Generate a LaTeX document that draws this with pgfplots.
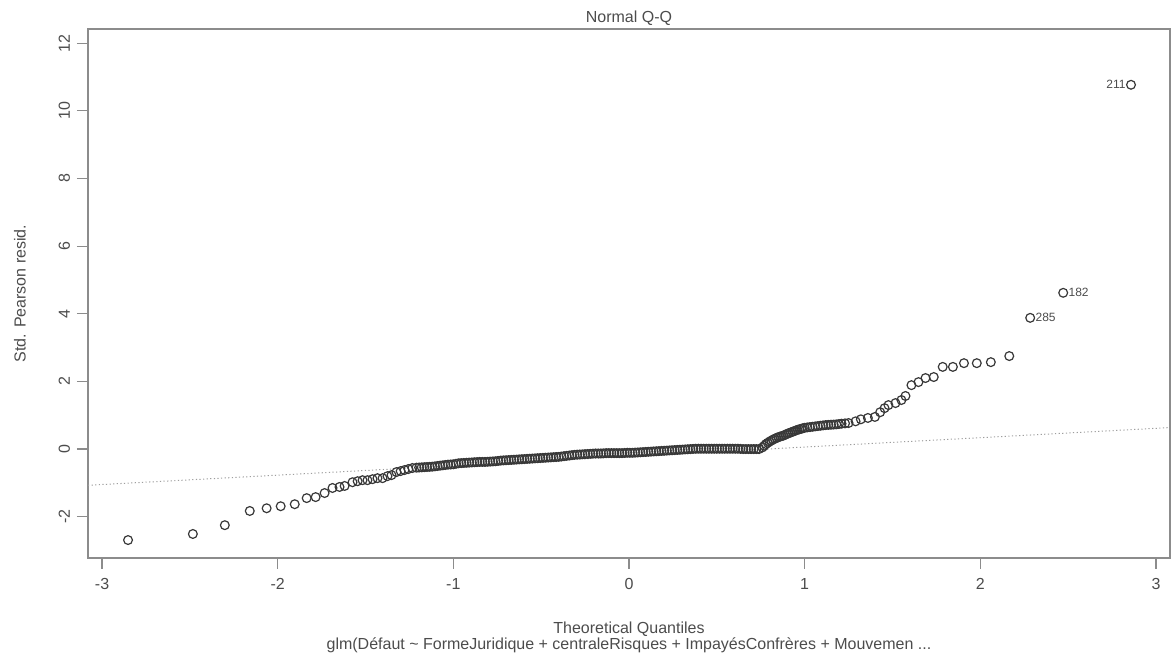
\documentclass[border=0pt]{standalone}
\usepackage{fontspec}
\setmainfont{Liberation Sans}
\usepackage{pgfplots}
\usepackage{pgfplotstable}
\pgfplotsset{compat=1.18}

\definecolor{axisgray}{gray}{0.55}
\definecolor{textgray}{gray}{0.3}
\definecolor{ptgray}{gray}{0.22}
\definecolor{refgray}{gray}{0.62}

% theoretical quantile vs standardised Pearson residual
\pgfplotstableread{
q r
-2.852 -2.69
-2.483 -2.51
-2.301 -2.25
-2.159 -1.83
-2.063 -1.75
-1.983 -1.69
-1.903 -1.63
-1.835 -1.45
-1.784 -1.42
-1.733 -1.30
-1.688 -1.15
-1.648 -1.12
-1.619 -1.09
-1.574 -0.98
-1.545 -0.95
-1.517 -0.92
-1.489 -0.92
-1.460 -0.89
-1.432 -0.86
-1.403 -0.86
-1.375 -0.80
-1.352 -0.77
-1.324 -0.68
-1.300 -0.65
-1.278 -0.62
-1.256 -0.59
-1.233 -0.56
-1.21 -0.55
-1.195 -0.545
-1.18 -0.54
-1.165 -0.535
-1.15 -0.53
-1.135 -0.525
-1.12 -0.52
-1.105 -0.51
-1.09 -0.50
-1.075 -0.49
-1.06 -0.48
-1.045 -0.47
-1.03 -0.46
-1.015 -0.455
-1.00 -0.45
-0.985 -0.435
-0.97 -0.42
-0.955 -0.415
-0.94 -0.41
-0.925 -0.405
-0.91 -0.40
-0.895 -0.395
-0.88 -0.39
-0.865 -0.385
-0.85 -0.38
-0.835 -0.38
-0.82 -0.38
-0.805 -0.375
-0.79 -0.37
-0.775 -0.365
-0.76 -0.36
-0.745 -0.35
-0.73 -0.34
-0.715 -0.335
-0.70 -0.33
-0.685 -0.325
-0.67 -0.32
-0.655 -0.315
-0.64 -0.31
-0.625 -0.305
-0.61 -0.30
-0.595 -0.295
-0.58 -0.29
-0.565 -0.285
-0.55 -0.28
-0.535 -0.275
-0.52 -0.27
-0.505 -0.265
-0.49 -0.26
-0.475 -0.255
-0.46 -0.25
-0.445 -0.245
-0.43 -0.24
-0.415 -0.235
-0.40 -0.23
-0.385 -0.22
-0.37 -0.21
-0.355 -0.20
-0.34 -0.19
-0.325 -0.18
-0.31 -0.17
-0.295 -0.165
-0.28 -0.16
-0.265 -0.155
-0.25 -0.15
-0.235 -0.145
-0.22 -0.14
-0.205 -0.135
-0.19 -0.13
-0.175 -0.13
-0.16 -0.13
-0.145 -0.125
-0.13 -0.12
-0.115 -0.12
-0.10 -0.12
-0.085 -0.12
-0.07 -0.12
-0.055 -0.12
-0.04 -0.12
-0.025 -0.115
-0.01 -0.11
0.005 -0.11
0.02 -0.11
0.035 -0.105
0.05 -0.10
0.065 -0.095
0.08 -0.09
0.095 -0.085
0.11 -0.08
0.125 -0.075
0.14 -0.07
0.155 -0.065
0.17 -0.06
0.185 -0.055
0.20 -0.05
0.215 -0.045
0.23 -0.04
0.245 -0.035
0.26 -0.03
0.275 -0.025
0.29 -0.02
0.305 -0.015
0.32 -0.01
0.335 -0.005
0.35 0.00
0.365 0.005
0.38 0.01
0.395 0.01
0.41 0.01
0.425 0.01
0.44 0.01
0.455 0.01
0.47 0.01
0.485 0.01
0.50 0.01
0.515 0.01
0.53 0.01
0.545 0.01
0.56 0.01
0.575 0.01
0.59 0.01
0.605 0.01
0.62 0.01
0.635 0.005
0.65 0.00
0.665 0.00
0.68 0.00
0.695 0.00
0.71 0.00
0.725 0.00
0.74 0.00
0.76 0.05
0.77 0.10
0.78 0.15
0.79 0.185
0.80 0.22
0.81 0.25
0.82 0.28
0.83 0.305
0.84 0.33
0.85 0.35
0.86 0.37
0.87 0.385
0.88 0.40
0.89 0.425
0.90 0.45
0.91 0.47
0.92 0.49
0.93 0.51
0.94 0.53
0.95 0.55
0.96 0.57
0.97 0.585
0.98 0.60
0.99 0.615
1.00 0.63
1.015 0.64
1.03 0.65
1.045 0.66
1.06 0.67
1.075 0.68
1.09 0.69
1.105 0.70
1.12 0.71
1.135 0.715
1.15 0.72
1.165 0.725
1.18 0.73
1.195 0.74
1.21 0.75
1.23 0.76
1.25 0.77
1.29 0.82
1.32 0.88
1.36 0.92
1.40 0.95
1.43 1.09
1.455 1.21
1.477 1.30
1.517 1.36
1.551 1.45
1.574 1.57
1.608 1.89
1.648 1.98
1.688 2.10
1.735 2.13
1.786 2.43
1.844 2.43
1.907 2.54
1.980 2.54
2.060 2.57
2.165 2.75
2.284 3.88
2.472 4.62
2.858 10.77
}\qqdata

\begin{document}
\begin{tikzpicture}
\begin{axis}[
  scale only axis,
  width=541pt, height=264.5pt,
  xmin=-3.08, xmax=3.08,
  ymin=-3.22, ymax=12.42,
  axis line style={axisgray, line width=0.6pt},
  xtick={-3,-2,-1,0,1,2,3},
  ytick={-2,0,2,4,6,8,10,12},
  tick align=outside, xtick pos=bottom, ytick pos=left,
  major tick length=5.5pt,
  tick style={axisgray, line width=0.6pt},
  /pgf/number format/assume math mode=true,
  ticklabel style={font=\fontsize{8}{9.6}\selectfont, text=textgray},
  xticklabel style={yshift=-1pt},
  yticklabel style={rotate=90, anchor=south},
  clip=false,
]
  % dotted reference line through the quartiles
  \addplot[refgray, line width=0.5pt, dash pattern=on 0.6pt off 1.2pt]
    coordinates {(-3.08,-1.07) (3.08,0.636)};
  % residuals
  \addplot[only marks, mark=o, mark size=2.2pt, ptgray,
           mark options={line width=0.6pt}] table[x=q, y=r] {\qqdata};
  % labelled observations
  \addplot[only marks, mark=none, nodes near coords, point meta=explicit symbolic,
           every node near coord/.style={anchor=west, inner sep=0pt, xshift=2.5pt,
             font=\fontsize{6}{7}\selectfont, text=textgray}]
    table[meta=lab] {
      x y lab
      2.284 3.88 285
      2.472 4.62 182
    };
  \addplot[only marks, mark=none, nodes near coords, point meta=explicit symbolic,
           every node near coord/.style={anchor=east, inner sep=0pt, xshift=-2.5pt,
             font=\fontsize{6}{7}\selectfont, text=textgray}]
    table[meta=lab] {
      x y lab
      2.858 10.77 211
    };
  \coordinate (SW) at (rel axis cs:0,0);
  \coordinate (NE) at (rel axis cs:1,1);
  \coordinate (BC) at (rel axis cs:0.5,0);
  \coordinate (TC) at (rel axis cs:0.5,1);
  \coordinate (LC) at (rel axis cs:0,0.5);
\end{axis}
\node[font=\fontsize{8}{9.6}\selectfont, text=textgray, anchor=base]
  at ([yshift=3pt]TC) {Normal Q-Q};
\node[font=\fontsize{8}{9.6}\selectfont, text=textgray, anchor=base]
  at ([yshift=-38pt]BC) {Theoretical Quantiles};
\node[font=\fontsize{8}{9.6}\selectfont, text=textgray, anchor=base]
  at ([yshift=-46pt]BC) {glm(Défaut \textasciitilde{} FormeJuridique + centraleRisques + ImpayésConfrères + Mouvemen ...};
\node[font=\fontsize{8}{9.6}\selectfont, text=textgray, rotate=90, anchor=center]
  at ([xshift=-34pt]LC) {Std. Pearson resid.};
\pgfresetboundingbox
\path ([shift={(-44pt,-49.5pt)}]SW) rectangle ([shift={(3pt,14.5pt)}]NE);
\end{tikzpicture}
\end{document}
